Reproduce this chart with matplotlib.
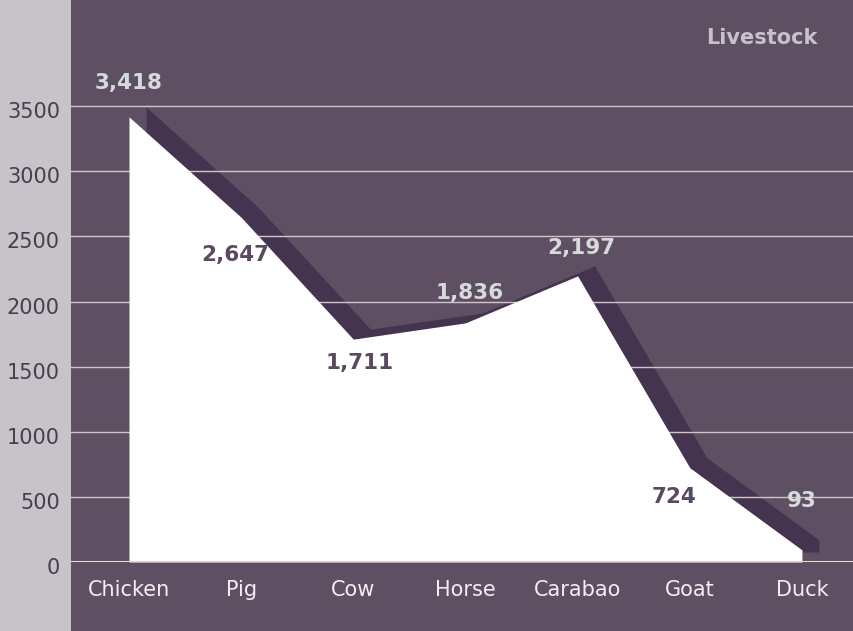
import matplotlib.pyplot as plt
import matplotlib.transforms as mtransforms
from matplotlib.patches import Rectangle

animals = ['Chicken', 'Pig', 'Cow', 'Horse', 'Carabao', 'Goat', 'Duck']
counts = [3418, 2647, 1711, 1836, 2197, 724, 93]
y_ticks = [0, 500, 1000, 1500, 2000, 2500, 3000, 3500]
title = 'Livestock'

# label styling: light labels sit above the point, dark ones below it
light = '#d6dadb'
dark = '#5a4a60'
label_colors = [light, dark, dark, light, light, dark, light]
label_offsets = [(0, 34), (-6, -38), (6, -24), (4, 30), (4, 28), (-16, -29), (0, 49)]

purple = '#5e4f63'
shadow = '#45344f'

fig = plt.figure(figsize=(8.54, 6.31), dpi=100)
fig.patch.set_facecolor('#c8c3c9')
fig.patches.append(Rectangle((71 / 854, 0), 1 - 71 / 854, 1, transform=fig.transFigure,
                             facecolor=purple, edgecolor='none', zorder=-5))

ax = fig.add_axes([71 / 854, 69 / 631, 1 - 71 / 854, 1 - 69 / 631])
ax.set_zorder(2)
ax.set_facecolor('none')
x = list(range(len(animals)))

# offset shadow of the area, drawn behind the white fill
shift = mtransforms.offset_copy(ax.transData, fig=fig, x=17, y=10, units='dots')
ax.fill_between(x, 0, counts, color=shadow, linewidth=0, zorder=1, transform=shift)
ax.fill_between(x, 0, counts, color='white', linewidth=0, zorder=3)

for yv in y_ticks[1:]:
    ax.axhline(yv, color='#d4c3c9', linewidth=1, zorder=2)
ax.axhline(0, color='#f0d6cb', linewidth=2.2, zorder=4)

for i, v in enumerate(counts):
    dx, dy = label_offsets[i]
    ax.annotate(f'{v:,}', (i, v), xytext=(dx * 0.72, dy * 0.72), textcoords='offset points',
                ha='center', va='center', fontsize=15.5, fontweight='bold',
                color=label_colors[i], zorder=5)

ax.set_xlim(-0.517, 6.464)
ax.set_ylim(0, 4315)
ax.set_xticks(x)
ax.set_xticklabels(animals, fontsize=15, color='#f2eef2')
ax.set_yticks(y_ticks)
ax.set_yticklabels([str(t) for t in y_ticks], fontsize=15, color='#4a3c50')
ax.tick_params(axis='x', length=0, pad=13)
ax.tick_params(axis='y', length=0, pad=8)
for s in ax.spines.values():
    s.set_visible(False)

# y labels sit a few pixels below their grid lines
down = mtransforms.ScaledTranslation(0, -4 / 100, fig.dpi_scale_trans)
for lbl in ax.get_yticklabels():
    lbl.set_transform(lbl.get_transform() + down)

fig.text(762 / 854, 1 - 38 / 631, title, ha='center', va='center', fontsize=15,
         fontweight='bold', color='#c9c1ca')

fig.savefig('out.png', dpi=100, facecolor=fig.get_facecolor())
